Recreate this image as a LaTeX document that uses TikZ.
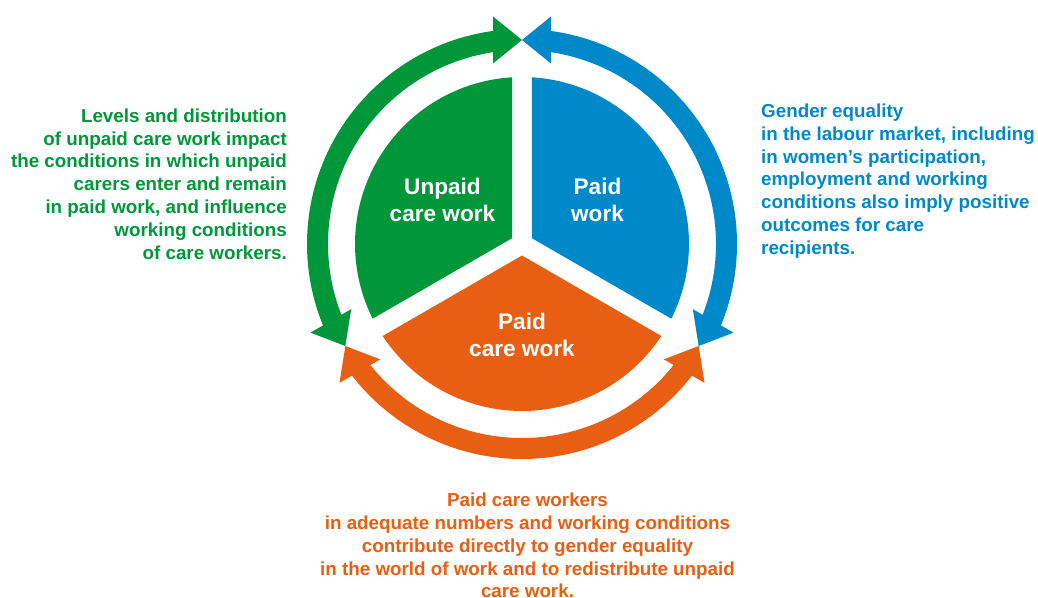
\documentclass[tikz,border=0pt]{standalone}
\usepackage{fontspec}
\setmainfont{Liberation Sans}
\definecolor{caregreen}{RGB}{0,151,58}
\definecolor{careblue}{RGB}{0,137,201}
\definecolor{careorange}{RGB}{232,94,18}

% band with a head on each end, from angle #1 to angle #2
\newcommand{\cyclearc}[3]{%
  \fill[#3] ({#1+7}:194) arc[start angle={#1+7}, end angle={#2-7}, radius=194]
    -- ({#2-7}:215) arc[start angle={#2-7}, end angle={#1+7}, radius=215] -- cycle;
  \fill[#3,rotate=#1] (204,0) -- (180.5,29) -- (227.5,29) -- cycle;
  \fill[#3,rotate=#2] (204,0) -- (180.5,-29) -- (227.5,-29) -- cycle;
}

\begin{document}
\begin{tikzpicture}[x=1pt,y=1pt,
    seclabel/.style={text=white,font=\fontsize{22.6}{27}\selectfont\bfseries,align=center,inner sep=0pt},
    sidetext/.style={font=\fontsize{18.8}{22.8}\selectfont\bfseries,inner sep=0pt}]
        \useasboundingbox (0,0) rectangle (1038,597);

        \begin{scope}[shift={(522,353)}]
        % sectors
        \fill[caregreen] (150:11.5) -- (93.43:167) arc[start angle=93.43, end angle=206.57, radius=167] -- cycle;
        \fill[careblue] (30:11.5) -- (-26.57:167) arc[start angle=-26.57, end angle=86.57, radius=167] -- cycle;
        \fill[careorange] (270:11.5) -- (213.43:167) arc[start angle=213.43, end angle=326.57, radius=167] -- cycle;

        % arrows round the circle
        \cyclearc{90}{210}{caregreen}
        \cyclearc{-30}{90}{careblue}
        \cyclearc{210}{330}{careorange}

        \node[seclabel] (unpaid) at (-79.5,44.5) {Unpaid\\care work};
        \node[seclabel] (paid) at (75.5,44.5) {Paid\\work};
        \node[seclabel] (paidcare) at (0,-90.5) {Paid\\care work};
        \end{scope}

        \node[sidetext,text=caregreen,anchor=east,align=right] (unpaidtext) at (287,413)
        {Levels and distribution\\of unpaid care work impact\\the conditions in which unpaid\\carers enter and remain\\in paid work, and influence\\working conditions\\of care workers.};
        \node[sidetext,text=careblue,anchor=west,align=left] (paidtext) at (761,416)
        {Gender equality\\in the labour market, including\\in women’s participation,\\employment and working\\conditions also imply positive\\outcomes for care\\recipients.};
        \node[sidetext,text=careorange,align=center] (paidcaretext) at (527.5,51.5)
        {Paid care workers\\in adequate numbers and working conditions\\contribute directly to gender equality\\in the world of work and to redistribute unpaid\\care work.};

    \end{tikzpicture}
\end{document}
